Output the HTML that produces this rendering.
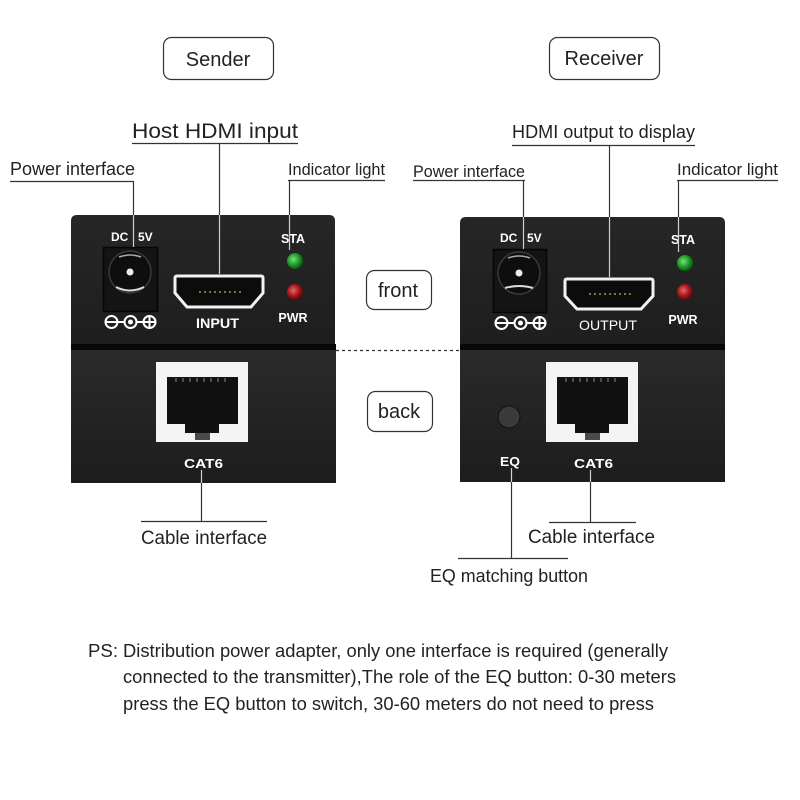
<!DOCTYPE html>
<html><head><meta charset="utf-8"><style>
html,body{margin:0;padding:0;background:#fff;}
svg{display:block;}
text{font-family:"Liberation Sans",Arial,sans-serif;}
.t{fill:#222;}
.w{fill:#fff;font-weight:bold;}
</style></head><body>
<svg width="800" height="800" viewBox="0 0 800 800" xmlns="http://www.w3.org/2000/svg">
<defs>
<linearGradient id="pt" x1="0" y1="0" x2="0" y2="1"><stop offset="0" stop-color="#262626"/><stop offset="1" stop-color="#1e1e1e"/></linearGradient>
<linearGradient id="pb" x1="0" y1="0" x2="0" y2="1"><stop offset="0" stop-color="#2a2a2a"/><stop offset="1" stop-color="#1d1d1d"/></linearGradient>
<radialGradient id="gl" cx="0.4" cy="0.4" r="0.6"><stop offset="0" stop-color="#7be07b"/><stop offset="0.6" stop-color="#1f9a2a"/><stop offset="1" stop-color="#0d5a14"/></radialGradient>
<radialGradient id="rl" cx="0.4" cy="0.4" r="0.6"><stop offset="0" stop-color="#e06a6a"/><stop offset="0.6" stop-color="#a8151a"/><stop offset="1" stop-color="#5a0a0c"/></radialGradient>
</defs>
<rect width="800" height="800" fill="#fff"/>

<!-- Title boxes -->
<rect x="163.5" y="37.5" width="110" height="42" rx="8" fill="#fff" stroke="#333" stroke-width="1.2"/>
<text x="218" y="66" class="t" font-size="20" text-anchor="middle">Sender</text>
<rect x="549.5" y="37.5" width="110" height="42" rx="8" fill="#fff" stroke="#333" stroke-width="1.2"/>
<text x="604" y="65" class="t" font-size="20" text-anchor="middle">Receiver</text>

<!-- front / back -->
<rect x="366.5" y="270.5" width="65" height="39" rx="8" fill="#fff" stroke="#333" stroke-width="1.2"/>
<text x="398" y="297" class="t" font-size="20" text-anchor="middle">front</text>
<rect x="367.5" y="391.5" width="65" height="40" rx="8" fill="#fff" stroke="#333" stroke-width="1.2"/>
<text x="399" y="418" class="t" font-size="20" text-anchor="middle">back</text>
<line x1="336" y1="350.5" x2="460" y2="350.5" stroke="#333" stroke-width="1.2" stroke-dasharray="3,3"/>

<!-- LEFT DEVICE -->
<path d="M71,221 Q71,215 77,215 H329 Q335,215 335,221 V346 H71 Z" fill="url(#pt)"/>
<rect x="71" y="344" width="265" height="6" fill="#080808"/>
<rect x="71" y="350" width="265" height="133" fill="url(#pb)"/>
<!-- jack -->
<rect x="103.5" y="247.5" width="54" height="64" fill="#141414" stroke="#050505" stroke-width="1.5"/>
<circle cx="130" cy="272" r="21" fill="#0e0e0e" stroke="#3a3a3a" stroke-width="1.5"/>
<path d="M119,257 Q130,253 141,257" stroke="#aaa" stroke-width="1.5" fill="none"/>
<path d="M116,287 Q130,294 144,287" stroke="#ddd" stroke-width="2" fill="none"/>
<circle cx="130" cy="272" r="3.5" fill="#eee"/>
<text x="111" y="241" class="w" font-size="12">DC</text>
<text x="138" y="241" class="w" font-size="12">5V</text>
<g stroke="#fff" stroke-width="2" fill="none">
<circle cx="111.5" cy="322" r="6"/><line x1="106" y1="322" x2="117" y2="322"/>
<line x1="117.5" y1="322" x2="124" y2="322"/>
<circle cx="130.5" cy="322" r="6"/>
<line x1="137" y1="322" x2="143" y2="322"/>
<circle cx="149.5" cy="322" r="6"/><line x1="144" y1="322" x2="155" y2="322"/><line x1="149.5" y1="316.5" x2="149.5" y2="327.5"/>
</g>
<circle cx="130.5" cy="322" r="2.5" fill="#fff"/>
<!-- hdmi -->
<path d="M177,276 H261 Q263,276 263,278 V293 L251,307 H187 L175,293 V278 Q175,276 177,276 Z" fill="#0c0c0c" stroke="#f2f2f2" stroke-width="3"/>
<g fill="#d9c25a"><circle cx="200" cy="292" r="0.9"/><circle cx="205" cy="292" r="0.9"/><circle cx="210" cy="292" r="0.9"/><circle cx="215" cy="292" r="0.9"/><circle cx="220" cy="292" r="0.9"/><circle cx="225" cy="292" r="0.9"/><circle cx="230" cy="292" r="0.9"/><circle cx="235" cy="292" r="0.9"/><circle cx="240" cy="292" r="0.9"/></g>
<text x="217.5" y="328" class="w" font-size="14" text-anchor="middle" textLength="43" lengthAdjust="spacingAndGlyphs">INPUT</text>
<!-- leds -->
<text x="293" y="243" class="w" font-size="12.5" text-anchor="middle">STA</text>
<circle cx="295" cy="261" r="8" fill="url(#gl)"/>
<circle cx="295" cy="292" r="8" fill="url(#rl)"/>
<text x="293" y="322" class="w" font-size="12.5" text-anchor="middle">PWR</text>
<!-- rj45 -->
<rect x="156" y="362" width="92" height="80" fill="#f4f4f4"/>
<path d="M167,377 H238 V424 H219 V433 H185 V424 H167 Z" fill="#111"/>
<g stroke="#888" stroke-width="1"><line x1="176" y1="378" x2="176" y2="382"/><line x1="183" y1="378" x2="183" y2="382"/><line x1="190" y1="378" x2="190" y2="382"/><line x1="197" y1="378" x2="197" y2="382"/><line x1="204" y1="378" x2="204" y2="382"/><line x1="211" y1="378" x2="211" y2="382"/><line x1="218" y1="378" x2="218" y2="382"/><line x1="225" y1="378" x2="225" y2="382"/></g>
<rect x="195" y="433" width="15" height="7" fill="#4a4a4a"/>
<text x="203.5" y="468" class="w" font-size="13" text-anchor="middle" textLength="39" lengthAdjust="spacingAndGlyphs">CAT6</text>

<!-- RIGHT DEVICE -->
<path d="M460,223 Q460,217 466,217 H719 Q725,217 725,223 V346 H460 Z" fill="url(#pt)"/>
<rect x="460" y="344" width="265" height="6" fill="#080808"/>
<rect x="460" y="350" width="265" height="132" fill="url(#pb)"/>
<rect x="493.5" y="249.5" width="53" height="63" fill="#141414" stroke="#050505" stroke-width="1.5"/>
<circle cx="519" cy="273" r="21" fill="#0e0e0e" stroke="#3a3a3a" stroke-width="1.5"/>
<path d="M508,258 Q519,254 530,258" stroke="#aaa" stroke-width="1.5" fill="none"/>
<path d="M505,288 Q519,284 533,288" stroke="#ddd" stroke-width="2" fill="none"/>
<circle cx="519" cy="273" r="3.5" fill="#eee"/>
<text x="500" y="242" class="w" font-size="12">DC</text>
<text x="527" y="242" class="w" font-size="12">5V</text>
<g stroke="#fff" stroke-width="2" fill="none">
<circle cx="501.5" cy="323" r="6"/><line x1="496" y1="323" x2="507" y2="323"/>
<line x1="507.5" y1="323" x2="514" y2="323"/>
<circle cx="520.5" cy="323" r="6"/>
<line x1="527" y1="323" x2="533" y2="323"/>
<circle cx="539.5" cy="323" r="6"/><line x1="534" y1="323" x2="545" y2="323"/><line x1="539.5" y1="317.5" x2="539.5" y2="328.5"/>
</g>
<circle cx="520.5" cy="323" r="2.5" fill="#fff"/>
<path d="M567,279 H651 Q653,279 653,281 V296 L641,309 H577 L565,296 V281 Q565,279 567,279 Z" fill="#0c0c0c" stroke="#f2f2f2" stroke-width="3"/>
<g fill="#d9c25a"><circle cx="590" cy="294" r="0.9"/><circle cx="595" cy="294" r="0.9"/><circle cx="600" cy="294" r="0.9"/><circle cx="605" cy="294" r="0.9"/><circle cx="610" cy="294" r="0.9"/><circle cx="615" cy="294" r="0.9"/><circle cx="620" cy="294" r="0.9"/><circle cx="625" cy="294" r="0.9"/><circle cx="630" cy="294" r="0.9"/></g>
<text x="608" y="330" class="w" font-size="14" text-anchor="middle" textLength="58" lengthAdjust="spacingAndGlyphs" style="font-weight:normal">OUTPUT</text>
<text x="683" y="244" class="w" font-size="12.5" text-anchor="middle">STA</text>
<circle cx="685" cy="263" r="8" fill="url(#gl)"/>
<circle cx="685" cy="292" r="8" fill="url(#rl)"/>
<text x="683" y="324" class="w" font-size="12.5" text-anchor="middle">PWR</text>
<circle cx="509" cy="417" r="11" fill="#3a3a3a" stroke="#111" stroke-width="1"/>
<text x="510" y="466" class="w" font-size="13" text-anchor="middle" textLength="20" lengthAdjust="spacingAndGlyphs">EQ</text>
<rect x="546" y="362" width="92" height="80" fill="#f4f4f4"/>
<path d="M557,377 H628 V424 H609 V433 H575 V424 H557 Z" fill="#111"/>
<g stroke="#888" stroke-width="1"><line x1="566" y1="378" x2="566" y2="382"/><line x1="573" y1="378" x2="573" y2="382"/><line x1="580" y1="378" x2="580" y2="382"/><line x1="587" y1="378" x2="587" y2="382"/><line x1="594" y1="378" x2="594" y2="382"/><line x1="601" y1="378" x2="601" y2="382"/><line x1="608" y1="378" x2="608" y2="382"/><line x1="615" y1="378" x2="615" y2="382"/></g>
<rect x="585" y="433" width="15" height="7" fill="#4a4a4a"/>
<text x="593.5" y="468" class="w" font-size="13" text-anchor="middle" textLength="39" lengthAdjust="spacingAndGlyphs">CAT6</text>

<!-- LEADERS: outside (dark) -->
<g stroke="#333" stroke-width="1.2" fill="none">
<line x1="132" y1="143.5" x2="298" y2="143.5"/><line x1="219.5" y1="143" x2="219.5" y2="215"/>
<line x1="10" y1="181.5" x2="134" y2="181.5"/><line x1="133.5" y1="181" x2="133.5" y2="215"/>
<line x1="288" y1="180.5" x2="385" y2="180.5"/><line x1="289.5" y1="180" x2="289.5" y2="215"/>
<line x1="512" y1="145.5" x2="695" y2="145.5"/><line x1="609.5" y1="145" x2="609.5" y2="217"/>
<line x1="413" y1="180.5" x2="525" y2="180.5"/><line x1="523.5" y1="180" x2="523.5" y2="217"/>
<line x1="677" y1="180.5" x2="778" y2="180.5"/><line x1="678.5" y1="180" x2="678.5" y2="217"/>
<line x1="201.5" y1="483" x2="201.5" y2="521"/><line x1="141" y1="521.5" x2="267" y2="521.5"/>
<line x1="511.5" y1="482" x2="511.5" y2="558"/><line x1="458" y1="558.5" x2="568" y2="558.5"/>
<line x1="590.5" y1="482" x2="590.5" y2="522"/><line x1="549" y1="522.5" x2="636" y2="522.5"/>
</g>
<!-- LEADERS: inside panels (light) -->
<g stroke="#cfcfcf" stroke-width="1.2" fill="none">
<line x1="219.5" y1="215" x2="219.5" y2="274"/>
<line x1="133.5" y1="215" x2="133.5" y2="247"/>
<line x1="289.5" y1="215" x2="289.5" y2="250"/>
<line x1="609.5" y1="217" x2="609.5" y2="277"/>
<line x1="523.5" y1="217" x2="523.5" y2="249"/>
<line x1="678.5" y1="217" x2="678.5" y2="252"/>
<line x1="201.5" y1="470" x2="201.5" y2="483"/>
<line x1="511.5" y1="468" x2="511.5" y2="482"/>
<line x1="590.5" y1="470" x2="590.5" y2="482"/>
</g>

<!-- Labels -->
<text x="132" y="138" class="t" font-size="21" textLength="166" lengthAdjust="spacingAndGlyphs">Host HDMI input</text>
<text x="10" y="175" class="t" font-size="18" textLength="125" lengthAdjust="spacingAndGlyphs">Power interface</text>
<text x="288" y="175" class="t" font-size="16.5" textLength="97" lengthAdjust="spacingAndGlyphs">Indicator light</text>
<text x="512" y="138" class="t" font-size="18" textLength="183" lengthAdjust="spacingAndGlyphs">HDMI output to display</text>
<text x="413" y="177" class="t" font-size="16.5" textLength="112" lengthAdjust="spacingAndGlyphs">Power interface</text>
<text x="677" y="175" class="t" font-size="17" textLength="101" lengthAdjust="spacingAndGlyphs">Indicator light</text>
<text x="141" y="544" class="t" font-size="19" textLength="126" lengthAdjust="spacingAndGlyphs">Cable interface</text>
<text x="528" y="543" class="t" font-size="19" textLength="127" lengthAdjust="spacingAndGlyphs">Cable interface</text>
<text x="430" y="582" class="t" font-size="18" textLength="158" lengthAdjust="spacingAndGlyphs">EQ matching button</text>

<!-- PS note -->
<text x="88" y="657" class="t" font-size="18" textLength="30" lengthAdjust="spacingAndGlyphs">PS:</text>
<text x="123" y="657" class="t" font-size="18" textLength="545" lengthAdjust="spacingAndGlyphs">Distribution power adapter, only one interface is required (generally</text>
<text x="123" y="683" class="t" font-size="18" textLength="553" lengthAdjust="spacingAndGlyphs">connected to the transmitter),The role of the EQ button: 0-30 meters</text>
<text x="123" y="710" class="t" font-size="18" textLength="531" lengthAdjust="spacingAndGlyphs">press the EQ button to switch, 30-60 meters do not need to press</text>
</svg>
</body></html>
